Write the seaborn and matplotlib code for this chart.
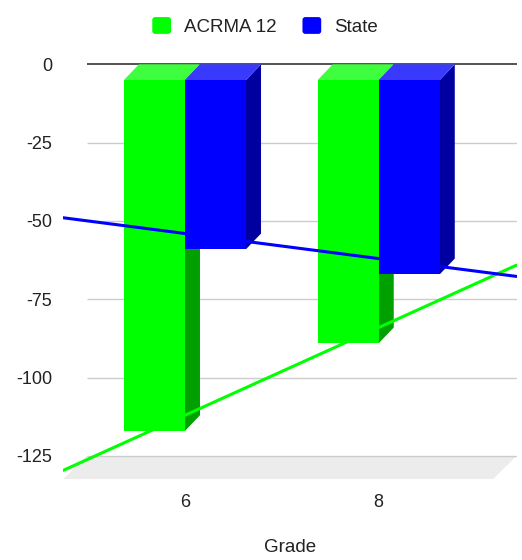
import numpy as np
import pandas as pd
import matplotlib
matplotlib.use("Agg")
import matplotlib.pyplot as plt
import matplotlib.patches as mpatches
from matplotlib.legend_handler import HandlerPatch
from matplotlib.transforms import ScaledTranslation
import seaborn as sns

# ---- data ----
grades = ["6", "8"]
series = ["ACRMA 12", "State"]
acrma = [-112, -84]
state = [-54, -62]
y_ticks = [0, -25, -50, -75, -100, -125]

# ---- styling ----
front_colors = ["#00ff00", "#0000ff"]
top_colors = ["#3dff3d", "#3a3aff"]
side_colors = ["#00a000", "#0000a0"]
text_color = "#222222"

sns.set_style("white")
plt.rcParams["font.family"] = ["Liberation Sans", "DejaVu Sans"]

df = pd.DataFrame({
    "Grade": grades * 2,
    "Score": acrma + state,
    "Series": [series[0]] * len(grades) + [series[1]] * len(grades),
})

W, H = 522, 560
fig = plt.figure(figsize=(W / 100, H / 100), dpi=100)
ax_left, ax_right, ax_top, ax_bottom = 63.3, 516.5, 56.0, 479.0
ax = fig.add_axes([ax_left / W, 1 - ax_bottom / H,
                   (ax_right - ax_left) / W, (ax_bottom - ax_top) / H])

sns.barplot(data=df, x="Grade", y="Score", hue="Series", order=grades,
            hue_order=series, palette=front_colors, saturation=1,
            width=0.63, gap=0, errorbar=None, legend=False, linewidth=0,
            ax=ax)

# axis ranges: 0 sits at the back wall, -125 on the back edge of the floor
px_per_unit = 3.1336
xlim = (-0.628, 1.711)
ylim = (-(ax_bottom - 64.3) / px_per_unit, (64.3 - ax_top) / px_per_unit)
ax.set_xlim(xlim)
ax.set_ylim(ylim)

# data units per screen pixel
ux = (xlim[1] - xlim[0]) / ax.bbox.width
uy = (ylim[1] - ylim[0]) / ax.bbox.height

# 3D depth of the bars and of the floor, in pixels
bar_dx, bar_dy = 15.0, 15.7
floor_dx, floor_dy = 23.4, 23.0

# floor slab
fy = y_ticks[-1]
ax.fill([xlim[0] + floor_dx * ux, xlim[1], xlim[1] - floor_dx * ux, xlim[0]],
        [fy, fy, fy - floor_dy * uy, fy - floor_dy * uy],
        color="#ececec", lw=0, zorder=0.3)

# back-wall gridlines
ax.hlines(y_ticks[1:], xlim[0] + floor_dx * ux, xlim[1], color="#cccccc",
          lw=1.0, zorder=0.5)
ax.hlines([0], xlim[0] + floor_dx * ux, xlim[1], color="#333333",
          lw=1.2, zorder=0.6)

# extrude every bar: side face, top face, then the front face in front
front_shift = ScaledTranslation(0, -bar_dy / 100, fig.dpi_scale_trans)
for i, container in enumerate(ax.containers):
    for bar in container:
        x0, w = bar.get_x(), bar.get_width()
        y0, h = bar.get_y(), bar.get_height()
        top, bottom = max(y0, y0 + h), min(y0, y0 + h)
        fdy, bdx = bar_dy * uy, bar_dx * ux
        z = 2 + i
        ax.fill([x0 + w, x0 + w, x0 + w + bdx, x0 + w + bdx],
                [top - fdy, bottom - fdy, bottom, top],
                color=side_colors[i], lw=0, zorder=z)
        ax.fill([x0, x0 + w, x0 + w + bdx, x0 + bdx],
                [top - fdy, top - fdy, top, top],
                color=top_colors[i], lw=0, zorder=z + 0.1)
        bar.set_transform(ax.transData + front_shift)
        bar.set_zorder(z + 0.2)

# linear trendlines across the whole plot width
xpos = np.arange(len(grades))
for vals, color in zip([acrma, state], front_colors):
    sns.regplot(x=xpos, y=np.array(vals, dtype=float), scatter=False,
                ci=None, truncate=False,
                line_kws=dict(color=color, lw=2.2, zorder=6), ax=ax)

ax.set_xlim(xlim)
ax.set_ylim(ylim)

ax.set_xticks(xpos)
ax.set_xticklabels(grades)
ax.set_yticks(y_ticks)
ax.set_yticklabels([str(v) for v in y_ticks])
ax.tick_params(axis="both", length=0, labelsize=13, labelcolor=text_color)
ax.tick_params(axis="y", pad=7.9)
ax.tick_params(axis="x", pad=10.5)
ax.set_ylabel("")
ax.set_xlabel("Grade", fontsize=13.5, color=text_color)
ax.xaxis.set_label_coords(0.5, -(547.5 - ax_bottom) / (ax_bottom - ax_top))
ax.xaxis.label.set_va("center")
sns.despine(ax=ax, left=True, bottom=True)


class RoundedSquare(HandlerPatch):
    def create_artists(self, legend, orig_handle, xdescent, ydescent,
                       width, height, fontsize, trans):
        p = mpatches.FancyBboxPatch(
            (-xdescent, -ydescent), width, height,
            boxstyle="round,pad=0,rounding_size=2",
            facecolor=orig_handle.get_facecolor(), edgecolor="none",
            transform=trans)
        return [p]


handles = [mpatches.Patch(facecolor=c) for c in front_colors]
fig.legend(handles, series, loc="center",
           bbox_to_anchor=(265 / W, 1 - 26.5 / H), ncol=2, frameon=False,
           fontsize=13.5, handlelength=1.0, handleheight=1.0,
           handletextpad=0.68, columnspacing=1.39, labelcolor=text_color,
           handler_map={mpatches.Patch: RoundedSquare()})

fig.savefig("out.png", dpi=100, facecolor="white")
